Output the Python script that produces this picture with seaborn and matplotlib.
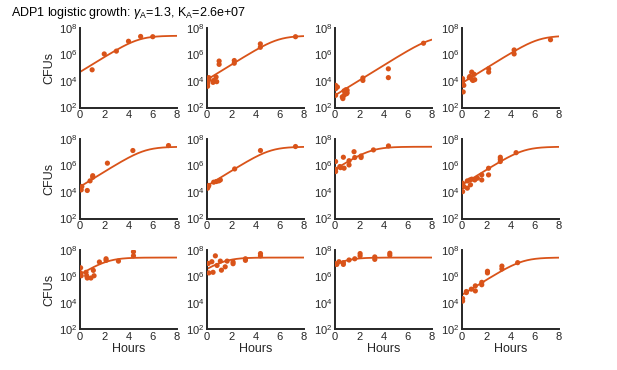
import numpy as np
import pandas as pd
import matplotlib
matplotlib.use('Agg')
import matplotlib.pyplot as plt
import seaborn as sns

# fitted logistic parameters (from the title)
gamma = 1.3
K = 2.6e7

# per-panel starting population of the fitted curve
n0 = [4.8e4, 1.26e4, 8.3e2, 7.0e3,
      2.5e4, 2.9e4, 5.2e5, 3.5e4,
      1.35e6, 3.6e6, 7.9e6, 4.0e4]

# measured CFUs per panel (hours, counts)
hours = [
    [1.0, 2.0, 3.0, 4.0, 5.0, 6.0],
    [0.05, 0.05, 0.05, 0.15, 0.15, 0.5, 0.55, 0.75, 0.8, 1.0, 1.0, 2.25, 2.25, 4.4, 4.4, 7.3],
    [0.05, 0.05, 0.05, 0.05, 0.2, 0.6, 0.65, 0.75, 0.75, 0.9, 0.95, 1.0, 1.0, 2.3, 2.3, 4.4, 4.4, 7.3],
    [0.05, 0.05, 0.05, 0.1, 0.15, 0.6, 0.65, 0.8, 0.85, 0.9, 1.0, 1.05, 2.2, 2.2, 4.3, 4.3, 7.3],
    [0.05, 0.1, 0.15, 0.6, 0.83, 1.05, 1.05, 2.26, 4.36, 7.3],
    [0.05, 0.1, 0.15, 0.55, 0.77, 0.97, 1.1, 2.28, 4.41, 7.3],
    [0.05, 0.05, 0.05, 0.4, 0.45, 0.69, 0.75, 1.16, 1.16, 1.57, 1.63, 2.15, 2.15, 3.17, 4.41],
    [0.05, 0.05, 0.15, 0.44, 0.44, 0.65, 0.7, 0.8, 1.05, 1.27, 1.63, 1.63, 2.19, 2.19, 3.16, 3.16, 3.16, 4.46],
    [0.05, 0.05, 0.1, 0.5, 0.55, 0.6, 0.9, 1.1, 1.16, 1.6, 2.15, 2.15, 3.17, 4.41, 4.41],
    [0.1, 0.15, 0.4, 0.5, 0.69, 0.83, 1.1, 1.19, 1.5, 1.66, 2.15, 2.15, 3.17, 3.17, 4.41, 4.41],
    [0.05, 0.15, 0.33, 0.69, 0.69, 1.16, 1.63, 2.07, 2.07, 3.28, 3.28, 4.52, 4.52],
    [0.05, 0.05, 0.36, 0.36, 0.77, 1.1, 1.1, 1.63, 1.63, 2.1, 2.1, 3.29, 3.29, 4.59],
]
cfus = [
    [7e4, 1.1e6, 1.8e6, 1e7, 2.3e7, 2.2e7],
    [4e3, 6.3e3, 8.9e3, 1.8e4, 1.26e4, 7.9e3, 1.1e4, 2e4, 8.9e3, 3.2e5, 1.8e5, 3.5e5, 2.2e5, 6.3e6, 3.5e6, 2.2e7],
    [4.7e3, 3.2e3, 2.6e3, 8.3e2, 3.5e3, 6.3e2, 4.7e2, 1.8e3, 8.3e2, 2.2e3, 1.1e3, 2e3, 1.26e3, 1.7e4, 1.1e4, 8.3e4, 1.8e4, 7.1e6],
    [1.5e4, 1e4, 6.3e3, 1.5e3, 4.7e3, 1.8e4, 2.2e4, 4.7e4, 1.26e4, 1.1e4, 3.2e4, 1.26e4, 8.3e4, 4.7e4, 2.2e6, 1.1e6, 1.3e7],
    [1.95e4, 1.45e4, 2.6e4, 1.3e4, 6.9e4, 1.7e5, 1.3e5, 1.5e6, 1.35e7, 3.2e7],
    [1.95e4, 2.6e4, 3.1e4, 5.5e4, 6.2e4, 6.9e4, 8.1e4, 5.5e5, 1.35e7, 2.7e7],
    [2e6, 5.2e5, 3.5e5, 8.3e5, 6.9e5, 4.2e6, 6.3e5, 2.3e6, 1.1e6, 1.1e7, 4e6, 5.2e6, 4e6, 1.5e7, 3e7],
    [4.6e4, 1.07e4, 2.6e4, 6.9e4, 1.95e4, 8.1e4, 3.5e4, 9.3e4, 8.1e4, 1.1e5, 1.95e5, 8.1e4, 6.2e5, 1.95e5, 4.2e6, 3e6, 2e6, 9.3e6],
    [4.4e6, 1.8e6, 1.1e6, 2e6, 1.1e6, 7.4e5, 7.4e5, 2.8e6, 1.1e6, 1.2e7, 2.1e7, 1.6e7, 1.4e7, 7.1e7, 3.5e7],
    [9.3e6, 1.8e6, 1.26e7, 2e6, 3.5e7, 6.6e6, 1.4e7, 2.9e6, 5.2e6, 1.4e7, 1.2e7, 8.9e6, 2.1e7, 1.6e7, 5.2e7, 3.5e7],
    [8.9e6, 7.9e6, 1.26e7, 1.07e7, 7.9e6, 1.7e7, 2.1e7, 5.2e7, 3.5e7, 2.9e7, 1.9e7, 5.5e7, 3.9e7],
    [2.1e4, 1.35e4, 7.1e4, 5.9e4, 1.07e5, 1.9e5, 7.9e4, 3.5e5, 2.3e5, 2.4e6, 1.8e6, 5.9e6, 3.6e6, 1.07e7],
]

x_ticks = [0, 2, 4, 6, 8]
y_ticks = [1e2, 1e4, 1e6, 1e8]

color = '#D95319'
ink = '#262626'

sns.set_style('white')
plt.rcParams['font.family'] = ['Liberation Sans', 'DejaVu Sans']
plt.rcParams['mathtext.fontset'] = 'custom'
plt.rcParams['mathtext.rm'] = 'Liberation Sans'
plt.rcParams['mathtext.it'] = 'Liberation Sans:italic'

fig = plt.figure(figsize=(6.17, 3.70), dpi=100)

lefts = [80, 207, 335, 462]
bottoms = [107.5, 218.5, 329.3]
w_px, h_px = 97, 79.5

t_fit = np.linspace(0, 8, 200)

for i in range(12):
    r, c = divmod(i, 4)
    ax = fig.add_axes([lefts[c] / 617, 1 - bottoms[r] / 370, w_px / 617, h_px / 370])
    fit = K / (1 + (K / n0[i] - 1) * np.exp(-gamma * t_fit))
    sns.lineplot(x=t_fit, y=fit, ax=ax, color=color, linewidth=1.3)
    df = pd.DataFrame({'Hours': hours[i], 'CFUs': cfus[i]})
    sns.scatterplot(data=df, x='Hours', y='CFUs', ax=ax, color=color,
                    s=14, edgecolor='none', zorder=3)
    ax.set_yscale('log')
    ax.set_xlim(0, 8)
    ax.set_ylim(1e2, 1e8)
    ax.set_xticks(x_ticks)
    ax.set_yticks(y_ticks)
    ax.minorticks_off()
    ax.tick_params(length=0, labelsize=8, colors=ink, pad=2)
    sns.despine(ax=ax)
    for side in ['left', 'bottom']:
        ax.spines[side].set_color(ink)
        ax.spines[side].set_linewidth(1.4)
    ax.set_xlabel('Hours' if r == 2 else '', fontsize=9, color=ink, labelpad=1)
    ax.set_ylabel('CFUs' if c == 0 else '', fontsize=9, color=ink, labelpad=2)

fig.text(0.018, 0.965, r'ADP1 logistic growth: $\gamma_{\mathrm{A}}$=1.3, K$_{\mathrm{A}}$=2.6e+07',
         fontsize=9, color='black', ha='left', va='center')

fig.savefig('out.png', dpi=100)
